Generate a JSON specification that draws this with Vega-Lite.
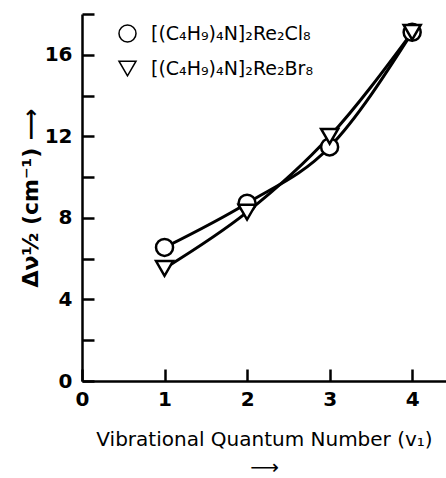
{
  "$schema": "https://vega.github.io/schema/vega-lite/v6.json",
  "width": 364,
  "height": 367,
  "autosize": {"type": "none"},
  "padding": {"left": 82, "top": 14, "right": 0, "bottom": 97},
  "background": "white",
  "config": {
    "view": {"stroke": null},
    "font": "DejaVu Sans",
    "axis": {"grid": false, "labelFlush": false, "domainColor": "black", "domainWidth": 2.5, "tickColor": "black", "tickWidth": 2.5, "labelColor": "black", "titleColor": "black", "labelFont": "DejaVu Sans", "titleFont": "DejaVu Sans", "titleFontWeight": "normal"}
  },
  "data": {
    "values": [
      {"v": 1, "w": 6.55, "compound": "[(C₄H₉)₄N]₂Re₂Cl₈"},
      {"v": 2, "w": 8.72, "compound": "[(C₄H₉)₄N]₂Re₂Cl₈"},
      {"v": 3, "w": 11.48, "compound": "[(C₄H₉)₄N]₂Re₂Cl₈"},
      {"v": 4, "w": 17.1, "compound": "[(C₄H₉)₄N]₂Re₂Cl₈"},
      {"v": 1, "w": 5.52, "compound": "[(C₄H₉)₄N]₂Re₂Br₈"},
      {"v": 2, "w": 8.28, "compound": "[(C₄H₉)₄N]₂Re₂Br₈"},
      {"v": 3, "w": 12.0, "compound": "[(C₄H₉)₄N]₂Re₂Br₈"},
      {"v": 4, "w": 17.1, "compound": "[(C₄H₉)₄N]₂Re₂Br₈"}
    ]
  },
  "encoding": {
    "x": {
      "field": "v", "type": "quantitative",
      "scale": {"domain": [0, 4.41], "nice": false, "zero": false},
      "axis": {
        "values": [0, 1, 2, 3, 4], "tickSize": -12, "labelPadding": 20,
        "labelFontSize": 20, "labelFontWeight": "bold",
        "title": ["Vibrational  Quantum  Number (v₁)", "⟶"],
        "titleFontSize": 20, "titlePadding": 20, "titleLineHeight": 28
      }
    },
    "y": {
      "field": "w", "type": "quantitative",
      "scale": {"domain": [0, 18], "nice": false},
      "axis": {
        "values": [0, 2, 4, 6, 8, 10, 12, 14, 16, 18], "tickSize": -12, "labelPadding": 22,
        "labelExpr": "datum.value % 4 == 0 ? datum.label : ''",
        "labelFontSize": 20, "labelFontWeight": "bold",
        "title": "Δν½  (cm⁻¹)        ⟶", "titleFontSize": 22, "titleFontWeight": "bold", "titleX": -40
      }
    }
  },
  "layer": [
    {
      "mark": {"type": "line", "interpolate": "monotone", "color": "black", "strokeWidth": 3},
      "encoding": {"detail": {"field": "compound"}}
    },
    {
      "mark": {"type": "point", "filled": false, "fill": "white", "fillOpacity": 1, "stroke": "black", "strokeWidth": 2.5, "size": 290, "opacity": 1},
      "encoding": {
        "shape": {
          "field": "compound", "type": "nominal",
          "scale": {"domain": ["[(C₄H₉)₄N]₂Re₂Cl₈", "[(C₄H₉)₄N]₂Re₂Br₈"], "range": ["circle", "triangle-down"]},
          "legend": {
            "title": null, "orient": "none", "legendX": 36, "legendY": 10,
            "labelFontSize": 19, "labelColor": "black", "labelOffset": 14, "labelLimit": 300,
            "symbolSize": 290, "rowPadding": 12,
            "encode": {"symbols": {"update": {"stroke": {"value": "black"}, "strokeWidth": {"value": 2.5}, "fill": {"value": "white"}, "opacity": {"value": 1}}}}
          }
        }
      }
    }
  ]
}
